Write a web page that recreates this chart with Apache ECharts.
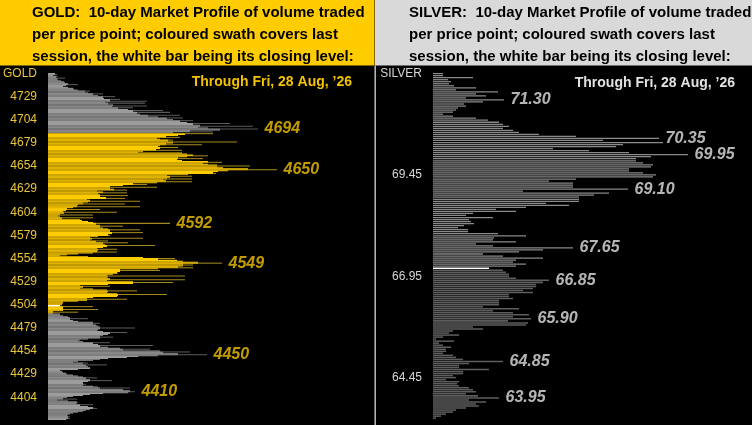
<!DOCTYPE html>
<html><head><meta charset="utf-8">
<script src="https://cdn.jsdelivr.net/npm/echarts@6/dist/echarts.min.js"></script>
<style>html,body{margin:0;padding:0;background:#000}#c{width:752px;height:425px}</style>
</head><body><div id="c"></div>
<script>
// ---------------- GOLD (1-point price rows, volume in relative units) ----------------
const goldUpperTop = 4754;
const goldUpperVol = [7,9,5,10,8,17,9,10,13,16,17,20,30,18,15,20,25,26,30,42,37,40,55,45,50,67,55,56,72,62,99,57,97,60,65,99,64,85,70,80,115,85,122,89,92,132,100,110,135,119,125,145,132,139,182,145,152,205,150,160,210,172,142,165,125];
const goldSessionTop = 4689;
const goldSessionVol = [165,137,130,118,132,109,112,125,120,189,
125,118,154,112,110,130,112,108,134,95,
90,134,139,145,160,139,130,155,129,134,
160,174,155,160,169,202,169,175,200,229,
180,170,165,168,140,119,144,122,119,144,
115,118,144,109,85,99,75,62,109,62,
66,79,49,55,79,50,52,80,52,58,
77,39,42,92,40,35,77,30,29,92,
25,19,52,18,15,69,16,12,45,10,
12,45,14,32,34,40,45,122,48,52,
75,52,55,60,92,62,62,95,64,60,
62,50,42,95,44,42,60,48,80,55,
57,107,59,55,49,69,50,49,69,45,
30,19,12,40,95,127,110,129,135,150,
174,135,145,135,130,145,110,72,112,72,
69,70,65,59,137,60,59,62,137,59,
85,125,85,60,32,62,35,32,45,59,
89,60,59,69,119,70,69,45,39,79,
39,30,15,15,14,14,12,45,15,15,
50,15,5,30,5];
const goldLowerTop = 4494;
const goldLowerVol = [12,12,15,20,22,40,22,25,30,45,
52,45,48,50,52,87,52,50,49,55,
79,62,60,55,52,65,52,40,32,30,
35,62,45,50,105,52,60,72,102,75,
112,142,115,130,159,110,90,79,60,52,
45,30,25,40,35,59,38,40,42,42,
30,12,14,15,18,19,25,30,35,49,
38,42,64,40,35,35,38,35,45,50,
82,52,75,82,87,80,55,42,35,25,
19,15,29,9,20,29,30,28,45,32,
40,45,49,42,38,35,30,25,22,20,
19,22,20,22,18];
const goldClose = 4503;
const goldAxisTitle = 'GOLD';
const goldTickLabels = [4729,4704,4679,4654,4629,4604,4579,4554,4529,4504,4479,4454,4429,4404];
const goldCallouts = [4694,4650,4592,4549,4450,4410];
const goldHeader = ['GOLD:  10-day Market Profile of volume traded','per price point; coloured swath covers last','session, the white bar being its closing level:'];

// ---------------- SILVER (0.05 price rows) ----------------
const silverTop = 71.95;
const silverStep = 0.05;
const silverVol = [10,10,40,15,18,16,21,43,23,65,
43,53,33,71,50,31,33,25,23,20,
10,20,43,55,66,70,76,70,80,86,
106,143,226,170,230,190,183,120,156,196,
255,218,203,203,210,220,218,196,196,210,
223,220,143,116,140,140,140,195,90,176,
161,146,146,146,113,136,93,63,83,40,
33,60,36,38,41,31,25,35,35,65,
93,61,60,83,43,60,140,110,86,50,
70,110,83,80,93,83,56,70,73,76,
76,83,116,110,103,103,100,90,100,76,
76,80,66,66,66,50,86,60,80,96,
80,98,75,95,93,40,50,20,16,26,
10,3,21,6,10,18,13,13,10,20,
23,30,70,36,26,26,56,30,30,20,
23,13,26,24,26,36,40,43,33,45,
66,36,53,43,46,33,23,20,13,8,
3];
const silverClose = 67.15;
const silverAxisTitle = 'SILVER';
const silverTickLabels = [69.45,66.95,64.45];
const silverCallouts = [71.30,70.35,69.95,69.10,67.65,66.85,65.90,64.85,63.95];
const silverHeader = ['SILVER:  10-day Market Profile of volume traded','per price point; coloured swath covers last','session, the white bar being its closing level:'];

const throughText = 'Through Fri, 28 Aug, \u201926';

// ---------------- build rows ----------------
const eq = (a,b) => Math.abs(a-b) < 1e-6;
function rows(top, step, vols){ return vols.map((v,i)=>[+(top - i*step).toFixed(2), v]); }
const gUpper = rows(goldUpperTop,1,goldUpperVol);
const gSessAll = rows(goldSessionTop,1,goldSessionVol);
const gSession = gSessAll.filter(r=>!eq(r[0],goldClose));
const gCloseRow = gSessAll.filter(r=>eq(r[0],goldClose));
const gLower = rows(goldLowerTop,1,goldLowerVol);
const gAll = gUpper.concat(gSessAll, gLower);
const gMap = new Map(gAll.map(r=>[r[0], r[1]]));

const sAll = rows(silverTop, silverStep, silverVol);
const sAbove = sAll.filter(r=>r[0] > silverClose + 1e-6);
const sCloseRow = sAll.filter(r=>eq(r[0],silverClose));
const sBelow = sAll.filter(r=>r[0] < silverClose - 1e-6);

const volAt = (all,p) => all.find(r=>eq(r[0],p))[1];

// a single thin price row that sticks out past both neighbours is drawn in a dimmer tone
function profileGold(color, tailColor, frac){
  return function(params, api){
    const p = api.value(0), v = api.value(1);
    const nb = Math.max(gMap.get(p+1) || 0, gMap.get(p-1) || 0);
    const core = Math.min(v, nb);
    const a = api.coord([0, p + frac/2]);
    const c = api.coord([core, p - frac/2]);
    const b = api.coord([v, p - frac/2]);
    return {type:'group', children:[
      {type:'rect', shape:{x:a[0], y:a[1], width:c[0]-a[0], height:c[1]-a[1]}, style:{fill:color}},
      {type:'rect', shape:{x:c[0], y:a[1], width:b[0]-c[0], height:c[1]-a[1]}, style:{fill:tailColor}}
    ]};
  };
}
function profile(color, step, frac){
  return function(params, api){
    const p = api.value(0), v = api.value(1);
    const a = api.coord([0, p + step*frac/2]);
    const b = api.coord([v, p - step*frac/2]);
    return {type:'rect', shape:{x:a[0], y:a[1], width:b[0]-a[0], height:b[1]-a[1]}, style:{fill:color}};
  };
}
function customSeries(idx, data, renderItem){
  return {type:'custom', xAxisIndex:idx, yAxisIndex:idx, data:data, encode:{x:1,y:0},
    renderItem: renderItem, silent:true, animation:false, clip:false};
}
const FONT = 'Liberation Sans, Arial, sans-serif';
function callouts(idx, all, list, color, digits){
  return {type:'scatter', xAxisIndex:idx, yAxisIndex:idx, symbolSize:1, silent:true, animation:false,
    itemStyle:{color:'rgba(0,0,0,0)'},
    data: list.map(p=>[volAt(all,p), p]),
    label:{show:true, position:'right', distance:6,
      formatter: d => d.value[1].toFixed(digits),
      color:color, fontSize:16, fontWeight:'bold', fontStyle:'italic', fontFamily:FONT}};
}
function tickFormatter(title, topTick, list, digits){
  return v => {
    if (eq(v, topTick)) return title;
    return list.some(t=>eq(t,v)) ? v.toFixed(digits) : '';
  };
}

const chart = echarts.init(document.getElementById('c'), null, {renderer:'canvas'});
chart.setOption({
  backgroundColor:'#000',
  animation:false,
  graphic:[
    {type:'rect', shape:{x:0,y:0,width:374.5,height:65.5}, style:{fill:'#FFCC00'}, silent:true, z:-10},
    {type:'rect', shape:{x:375,y:0,width:377,height:65.5}, style:{fill:'#D9D9D9'}, silent:true, z:-10},
    {type:'line', shape:{x1:375.2,y1:65.5,x2:375.2,y2:425}, style:{stroke:'#BDBDBD', lineWidth:1.5}, silent:true}
  ],
  title:[
    {text:goldHeader.join('\n'), left:32, top:1.5, padding:0,
      textStyle:{fontFamily:FONT, fontWeight:'bold', fontSize:15, lineHeight:22, color:'#000'}},
    {text:silverHeader.join('\n'), left:409, top:1.5, padding:0,
      textStyle:{fontFamily:FONT, fontWeight:'bold', fontSize:15, lineHeight:22, color:'#000'}},
    {text:throughText, right:400, top:74, padding:0,
      textStyle:{fontFamily:FONT, fontWeight:'bold', fontSize:14, lineHeight:16, color:'#F2C200'}},
    {text:throughText, right:17, top:75, padding:0,
      textStyle:{fontFamily:FONT, fontWeight:'bold', fontSize:14, lineHeight:16, color:'#E2E2E2'}}
  ],
  grid:[
    {left:48, top:65.2, width:326, height:355.2, containLabel:false},
    {left:433, top:65.5, width:319, height:354.7, containLabel:false}
  ],
  xAxis:[
    {type:'value', gridIndex:0, min:0, max:326, show:false},
    {type:'value', gridIndex:1, min:0, max:319, show:false}
  ],
  yAxis:[
    {type:'value', gridIndex:0, min:4379, max:4763, interval:1,
      axisLine:{show:false}, axisTick:{show:false}, splitLine:{show:false},
      axisLabel:{margin:11, color:'#E9C53A', fontSize:12, fontFamily:FONT,
        formatter: tickFormatter(goldAxisTitle, goldUpperTop, goldTickLabels, 0)}},
    {type:'value', gridIndex:1, min:63.40, max:72.15, interval:0.05,
      axisLine:{show:false}, axisTick:{show:false}, splitLine:{show:false},
      axisLabel:{margin:11, color:'#D6D6D6', fontSize:12, fontFamily:FONT,
        formatter: tickFormatter(silverAxisTitle, silverTop, silverTickLabels, 2)}}
  ],
  series:[
    customSeries(0, gUpper, profileGold('#9C9C9C', '#5A5A5A', 1.12)),
    customSeries(0, gSession, profileGold('#FFCC00', '#A48A1E', 1.12)),
    customSeries(0, gLower, profileGold('#9C9C9C', '#5A5A5A', 1.12)),
    customSeries(0, gCloseRow, profile('#FFFFFF', 1, 1.6)),
    callouts(0, gAll, goldCallouts, '#F2C200', 0),
    customSeries(1, sAbove, profile('#8A8A8A', silverStep, 0.62)),
    customSeries(1, sBelow, profile('#5E5E5E', silverStep, 0.75)),
    customSeries(1, sCloseRow, profile('#FFFFFF', silverStep, 0.7)),
    callouts(1, sAll, silverCallouts, '#E2E2E2', 2)
  ]
});
</script></body></html>
